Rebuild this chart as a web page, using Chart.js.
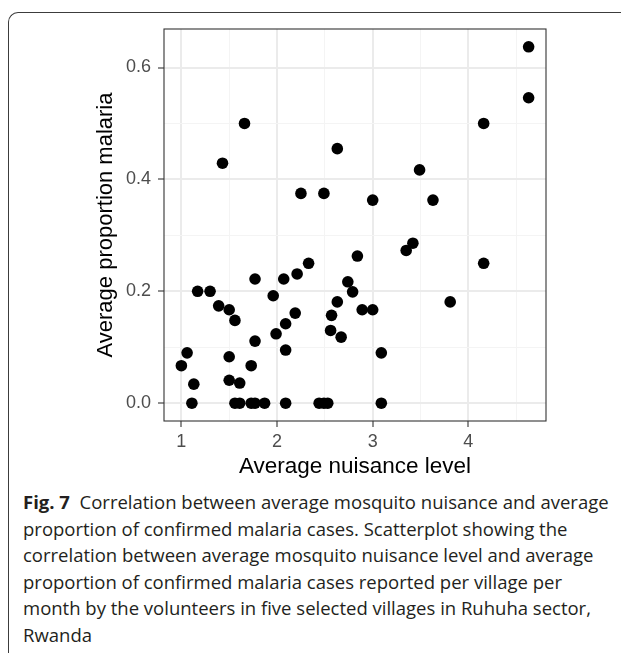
<!DOCTYPE html>
<html>
<head>
<meta charset="utf-8">
<script src="https://cdn.jsdelivr.net/npm/chart.js@4/dist/chart.umd.min.js"></script>
<style>
  html, body { margin: 0; padding: 0; background: #fff; }
  #page { position: relative; width: 621px; height: 653px; overflow: hidden; background: #fff; }
  #frame {
    position: absolute; left: 8px; top: 12px; width: 660px; height: 700px;
    border-left: 1.3px solid #3c3c3c; border-top: 1.3px solid #3c3c3c;
    border-top-left-radius: 10px;
  }
  #plot { position: absolute; left: 0; top: 0; }
  #caption {
    position: absolute; left: 23px; top: 489px;
    font-family: "Open Sans", "Noto Sans", sans-serif; font-size: 17px; line-height: 26.6px;
    color: #231f20; white-space: nowrap;
  }
  #caption b { font-weight: 700; }
</style>
</head>
<body>
<div id="page">
  <div id="frame"></div>
  <canvas id="plot" width="621" height="480"></canvas>
  <div id="caption"><span id="firstLine"><b>Fig. 7</b>&nbsp; Correlation between average mosquito nuisance and average</span><br>proportion of confirmed malaria cases. Scatterplot showing the<br>correlation between average mosquito nuisance level and average<br>proportion of confirmed malaria cases reported per village per<br>month by the volunteers in five selected villages in Ruhuha sector,<br>Rwanda</div>
</div>
<script>
// Average nuisance level per village-month
const nuisance = [
  1.66, 1.43, 2.63, 2.25, 2.49, 3.00, 4.63, 4.63, 4.16, 3.49,
  3.63, 3.42, 3.35, 4.16, 3.81, 2.84, 2.33, 2.21, 2.07, 1.77,
  1.17, 1.30, 1.96, 2.74, 2.79, 2.63, 2.57, 2.89, 3.00, 1.39,
  1.50, 1.56, 2.19, 2.09, 1.99, 2.56, 2.67, 1.77, 2.09, 3.09,
  1.06, 1.00, 1.50, 1.73, 1.13, 1.50, 1.61,
  1.11, 1.56, 1.61, 1.73, 1.77, 1.87, 2.09, 2.44, 2.49, 2.53, 3.09
];
// Average proportion of confirmed malaria cases
const malaria = [
  0.500, 0.429, 0.455, 0.375, 0.375, 0.363, 0.637, 0.546, 0.500, 0.417,
  0.363, 0.286, 0.273, 0.250, 0.181, 0.263, 0.250, 0.231, 0.222, 0.222,
  0.200, 0.200, 0.192, 0.217, 0.199, 0.181, 0.157, 0.167, 0.167, 0.174,
  0.167, 0.148, 0.161, 0.142, 0.124, 0.130, 0.118, 0.111, 0.095, 0.090,
  0.090, 0.067, 0.083, 0.067, 0.034, 0.041, 0.036,
  0, 0, 0, 0, 0, 0, 0, 0, 0, 0, 0
];

const xMajorTicks = [1, 2, 3, 4];
const xMinorTicks = [1.5, 2.5, 3.5, 4.5];
const xTickLabels = ['1', '2', '3', '4'];
const yMajorTicks = [0, 0.2, 0.4, 0.6];
const yMinorTicks = [0.1, 0.3, 0.5];
const yTickLabels = ['0.0', '0.2', '0.4', '0.6'];

// Keep the caption's first line at the column width
(function fitCaption() {
  const cap = document.getElementById('caption');
  const first = document.getElementById('firstLine');
  const target = 586;
  const size = parseFloat(getComputedStyle(cap).fontSize);
  const w = first.getBoundingClientRect().width;
  if (w > 0) cap.style.fontSize = (size * target / w).toFixed(2) + 'px';
})();

// ggplot-style 5% expansion of the data range
function expanded(values) {
  const lo = Math.min(...values), hi = Math.max(...values);
  const pad = (hi - lo) * 0.05;
  return [lo - pad, hi + pad];
}
const [xMin, xMax] = expanded(nuisance);
const [yMin, yMax] = expanded(malaria);

const FONT = "'Liberation Sans', Arial, Helvetica, sans-serif";

function gridFor(major) {
  const isMajor = v => major.some(m => Math.abs(m - v) < 1e-9);
  return {
    color: c => isMajor(c.tick.value) ? '#ebebeb' : '#f4f4f4',
    lineWidth: c => isMajor(c.tick.value) ? 2 : 1,
    tickColor: c => isMajor(c.tick.value) ? '#333333' : 'rgba(0,0,0,0)',
    tickWidth: 1.1,
    tickLength: 6,
    drawTicks: true
  };
}

function tickSet(major, minor) {
  return scale => {
    scale.ticks = major.concat(minor).sort((a, b) => a - b).map(v => ({ value: v }));
  };
}

// Frame drawn around the plotting panel
const panelBorder = {
  id: 'panelBorder',
  afterDatasetsDraw(chart) {
    const { ctx, chartArea: a } = chart;
    ctx.save();
    ctx.strokeStyle = '#333333';
    ctx.lineWidth = 1.1;
    ctx.strokeRect(a.left, a.top, a.right - a.left, a.bottom - a.top);
    ctx.restore();
  }
};

new Chart(document.getElementById('plot'), {
  type: 'scatter',
  data: {
    datasets: [{
      data: nuisance.map((x, i) => ({ x: x, y: malaria[i] })),
      backgroundColor: '#000000',
      borderColor: '#000000',
      borderWidth: 0,
      pointRadius: 5.8,
      pointHoverRadius: 5.8
    }]
  },
  options: {
    responsive: false,
    animation: false,
    devicePixelRatio: 1,
    layout: { padding: { left: 89, top: 29, right: 75, bottom: 0 } },
    plugins: { legend: { display: false }, tooltip: { enabled: false } },
    scales: {
      x: {
        type: 'linear', min: xMin, max: xMax,
        afterBuildTicks: tickSet(xMajorTicks, xMinorTicks),
        afterFit: s => { s.height = 59; },
        grid: gridFor(xMajorTicks),
        border: { display: false },
        ticks: {
          autoSkip: false, maxRotation: 0, padding: 4,
          color: '#4d4d4d', font: { family: FONT, size: 18, lineHeight: 1.2 },
          callback: v => { const i = xMajorTicks.indexOf(v); return i >= 0 ? xTickLabels[i] : ''; }
        },
        title: {
          display: true, text: 'Average nuisance level', color: '#000000',
          font: { family: FONT, size: 22.5, lineHeight: 1.2 }, padding: { top: 0, bottom: 0 }
        }
      },
      y: {
        type: 'linear', min: yMin, max: yMax,
        afterBuildTicks: tickSet(yMajorTicks, yMinorTicks),
        afterFit: s => { s.width = 75; },
        grid: gridFor(yMajorTicks),
        border: { display: false },
        ticks: {
          autoSkip: false, padding: 7,
          color: '#4d4d4d', font: { family: FONT, size: 18, lineHeight: 1.2 },
          callback: v => { const i = yMajorTicks.indexOf(v); return i >= 0 ? yTickLabels[i] : ''; }
        },
        title: {
          display: true, text: 'Average proportion malaria', color: '#000000',
          font: { family: FONT, size: 22, lineHeight: 1.2 }, padding: { top: 4, bottom: 0 }
        }
      }
    }
  },
  plugins: [panelBorder]
});
</script>
</body>
</html>
